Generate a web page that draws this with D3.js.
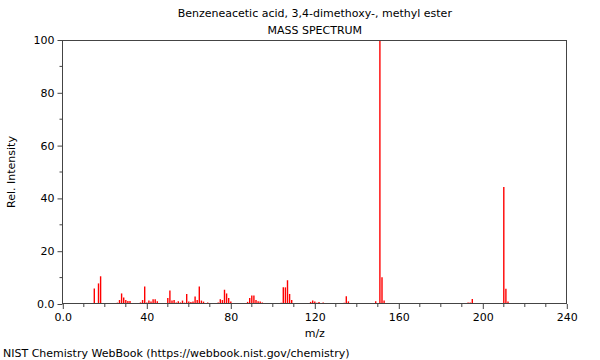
<!DOCTYPE html>
<html>
<head>
<meta charset="utf-8">
<script src="https://cdn.jsdelivr.net/npm/d3@7"></script>
<style>
  html, body { margin: 0; padding: 0; background: #fff; }
  svg { display: block; font-family: "DejaVu Sans", sans-serif; }
</style>
</head>
<body>
<svg id="chart" width="600" height="360"></svg>
<script>
const title = "Benzeneacetic acid, 3,4-dimethoxy-, methyl ester";
const subtitle = "MASS SPECTRUM";
const xLabel = "m/z";
const yLabel = "Rel. Intensity";
const footer = "NIST Chemistry WebBook (https://webbook.nist.gov/chemistry)";

const mz = [15, 17, 18,
  26, 27, 28, 29, 30, 31, 32,
  37, 38, 39, 40, 41, 42, 43, 44, 45,
  50, 51, 52, 53, 54, 55, 56, 57, 58, 59, 60, 61, 62, 63, 64, 65, 66, 67, 68, 69,
  74, 75, 76, 77, 78, 79, 80,
  88, 89, 90, 91, 92, 93, 94, 95,
  104, 105, 106, 107, 108, 109,
  118, 119, 120, 121, 122, 123, 124,
  134, 135, 136,
  149, 150, 151, 152, 153,
  193, 194, 195,
  210, 211, 212];
const intensity = [5.9, 7.8, 10.5,
  0.5, 1.5, 4.0, 2.5, 1.5, 1.1, 1.1,
  0.6, 1.5, 6.6, 0.6, 1.3, 0.9, 1.8, 1.8, 1.0,
  2.3, 5.1, 1.3, 1.5, 0.6, 1.0, 0.6, 1.3, 0.5, 3.8, 0.9, 0.8, 0.9, 2.8, 1.5, 6.6, 1.3, 0.9, 0.3, 0.6,
  0.6, 1.8, 1.5, 5.4, 4.0, 2.3, 0.9,
  0.8, 2.3, 3.2, 3.2, 1.5, 1.0, 0.9, 0.6,
  0.5, 6.3, 6.3, 9.0, 3.8, 1.5,
  0.8, 1.3, 0.9, 0.5, 0.8, 0.3, 0.6,
  0.5, 2.9, 1.0,
  1.0, 0.4, 100, 10.1, 1.3,
  0.6, 0.6, 1.9,
  44.3, 5.8, 0.9];

const xMajor = [0, 40, 80, 120, 160, 200, 240];
const xMajorLabels = ["0.0", "40", "80", "120", "160", "200", "240"];
const yMajor = [0, 20, 40, 60, 80, 100];
const yMajorLabels = ["0.0", "20", "40", "60", "80", "100"];

const svg = d3.select("#chart");
const mLeft = 62.8, mRight = 566.8, mTop = 40, mBottom = 304;
const x = d3.scaleLinear().domain([0, 240]).range([mLeft, mRight]);
const y = d3.scaleLinear().domain([0, 100]).range([mBottom, mTop]);
const axisColor = "#444";

// peaks
svg.append("g").selectAll("line").data(mz).join("line")
  .attr("x1", d => x(d)).attr("x2", d => x(d))
  .attr("y1", y(0))
  .attr("y2", (d, i) => y(intensity[i]))
  .attr("stroke", "#ff0000").attr("stroke-width", 1.4);

// frame
svg.append("rect")
  .attr("x", 62.5).attr("y", 40.5)
  .attr("width", 504).attr("height", 263)
  .attr("fill", "none").attr("stroke", axisColor).attr("stroke-width", 1);

// x axis
const xAxis = d3.axisBottom(x).tickValues(xMajor)
  .tickFormat((d, i) => xMajorLabels[i]).tickSize(5).tickPadding(4);
const gx = svg.append("g").attr("transform", `translate(0,${mBottom})`).call(xAxis);
gx.select(".domain").remove();
gx.selectAll("line").attr("stroke", axisColor);
gx.selectAll("text").attr("font-size", 11).attr("fill", "#000")
  .attr("font-family", "DejaVu Sans, sans-serif");
const xMinor = d3.range(0, 241, 10).filter(v => v % 40 !== 0);
svg.append("g").selectAll("line").data(xMinor).join("line")
  .attr("x1", d => x(d)).attr("x2", d => x(d))
  .attr("y1", mBottom).attr("y2", mBottom + 3)
  .attr("stroke", axisColor);

// y axis
const yAxis = d3.axisLeft(y).tickValues(yMajor)
  .tickFormat((d, i) => yMajorLabels[i]).tickSize(5).tickPadding(3);
const gy = svg.append("g").attr("transform", `translate(62.5,0)`).call(yAxis);
gy.select(".domain").remove();
gy.selectAll("line").attr("stroke", axisColor);
gy.selectAll("text").attr("font-size", 11).attr("fill", "#000")
  .attr("font-family", "DejaVu Sans, sans-serif");
const yMinor = d3.range(10, 100, 20);
svg.append("g").selectAll("line").data(yMinor).join("line")
  .attr("x1", 59.5).attr("x2", 62.5)
  .attr("y1", d => y(d)).attr("y2", d => y(d))
  .attr("stroke", axisColor);

// texts
const cx = (mLeft + mRight) / 2;
svg.append("text").attr("x", cx).attr("y", 17).attr("text-anchor", "middle")
  .attr("font-size", 11).text(title);
svg.append("text").attr("x", cx).attr("y", 34).attr("text-anchor", "middle")
  .attr("font-size", 11).text(subtitle);
svg.append("text").attr("x", cx).attr("y", 337).attr("text-anchor", "middle")
  .attr("font-size", 11).text(xLabel);
svg.append("text").attr("transform", `translate(15,${(mTop + mBottom) / 2}) rotate(-90)`)
  .attr("text-anchor", "middle").attr("font-size", 11).text(yLabel);
svg.append("text").attr("x", 3).attr("y", 357).attr("font-size", 11).text(footer);
</script>
</body>
</html>
